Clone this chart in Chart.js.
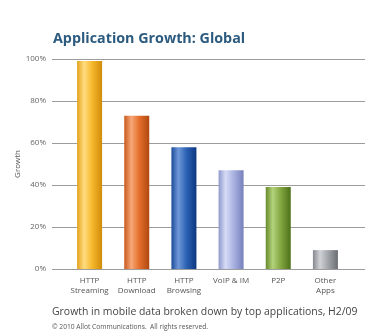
<!DOCTYPE html>
<html>
<head>
<meta charset="utf-8">
<script src="https://cdn.jsdelivr.net/npm/chart.js@4/dist/chart.umd.min.js"></script>
<style>
  body { margin: 0; background: #fff; }
  #wrap { position: relative; width: 385px; height: 336px; font-family: "Open Sans", sans-serif; }
  canvas { position: absolute; left: 0; top: 0; }
  .txt { position: absolute; white-space: nowrap; line-height: 1; }
  #title { left: 53px; top: 31px; font-size: 14.3px; font-weight: bold; color: #2c5b7f; }
  #caption { left: 52px; top: 306px; font-size: 10.45px; color: #444; }
  #copy { left: 52px; top: 324px; font-size: 6.7px; color: #555; }
</style>
</head>
<body>
<div id="wrap">
  <canvas id="chart" width="385" height="336"></canvas>
  <div class="txt" id="title">Application Growth: Global</div>
  <div class="txt" id="caption">Growth in mobile data broken down by top applications, H2/09</div>
  <div class="txt" id="copy">© 2010 Allot Communications.&nbsp; All rights reserved.</div>
</div>
<script>
// data
const categories = [["HTTP", "Streaming"], ["HTTP", "Download"], ["HTTP", "Browsing"], ["VoIP & IM"], ["P2P"], ["Other", "Apps"]];
const growth = [99, 73, 58, 47, 39, 9];
const yTicks = [0, 20, 40, 60, 80, 100];

// bar shading (left edge, highlight, body, right edge)
const barEdge  = ["#e4a21c", "#c8581c", "#1c4c98", "#8f98cc", "#668a2a", "#85888e"];
const barLight = ["#ffdc80", "#f8a878", "#6f98d8", "#d6dcf6", "#b4d27c", "#d0d2d6"];
const barBody  = ["#f6b82c", "#e46e2c", "#2c62b4", "#a9b2e0", "#82a640", "#a2a5aa"];
const barDark  = ["#d08c08", "#b04810", "#0c3680", "#7680bc", "#4e7018", "#6a6d72"];

const BAR_FRAC = 0.53;

function barGradient(ctx) {
  const chart = ctx.chart;
  const i = ctx.dataIndex;
  const x = chart.scales.x;
  if (ctx.type !== "data" || !x || i === undefined) return barBody[i] || barBody[0];
  const c = x.getPixelForValue(i);
  const w = (x.width / categories.length) * BAR_FRAC;
  if (!isFinite(c) || !isFinite(w) || w <= 0) return barBody[i];
  const g = chart.ctx.createLinearGradient(c - w / 2, 0, c + w / 2, 0);
  g.addColorStop(0, barEdge[i]);
  g.addColorStop(0.28, barLight[i]);
  g.addColorStop(0.6, barBody[i]);
  g.addColorStop(1, barDark[i]);
  return g;
}

// horizontal rules that run past the plot on both sides
const gridRules = {
  id: "gridRules",
  beforeDatasetsDraw(chart) {
    const { ctx, chartArea, scales } = chart;
    ctx.save();
    ctx.strokeStyle = "#9c9c9c";
    ctx.lineWidth = 1;
    yTicks.forEach(v => {
      const y = Math.round(scales.y.getPixelForValue(v)) + 0.5;
      ctx.beginPath();
      ctx.moveTo(chartArea.left - 14, y);
      ctx.lineTo(chartArea.right + 16, y);
      ctx.stroke();
    });
    ctx.restore();
  }
};

new Chart(document.getElementById("chart"), {
  type: "bar",
  data: {
    labels: categories,
    datasets: [{
      label: "Growth",
      data: growth,
      backgroundColor: barGradient,
      borderWidth: 0,
      barPercentage: BAR_FRAC,
      categoryPercentage: 1
    }]
  },
  options: {
    responsive: false,
    animation: false,
    layout: { padding: { top: 59, right: 36, bottom: 0, left: 0 } },
    plugins: {
      legend: { display: false },
      tooltip: { enabled: false }
    },
    scales: {
      x: {
        grid: { display: false, drawTicks: false },
        border: { display: false },
        ticks: {
          color: "#555",
          font: { family: "Open Sans", size: 8, lineHeight: 1.2 },
          padding: 7,
          maxRotation: 0,
          autoSkip: false
        },
        afterFit: s => { s.height = 67; }
      },
      y: {
        min: 0,
        max: 100,
        grid: { display: false, drawTicks: false },
        border: { display: false },
        afterBuildTicks: s => { s.ticks = yTicks.map(v => ({ value: v })); },
        ticks: {
          color: "#666",
          font: { family: "Open Sans", size: 8 },
          padding: 20,
          callback: v => v + "%"
        },
        title: {
          display: true,
          text: "Growth",
          color: "#555",
          font: { family: "Open Sans", size: 8 },
          padding: { top: 13, bottom: 0 }
        },
        afterFit: s => { s.width = 66; }
      }
    }
  },
  plugins: [gridRules]
});
</script>
</body>
</html>
